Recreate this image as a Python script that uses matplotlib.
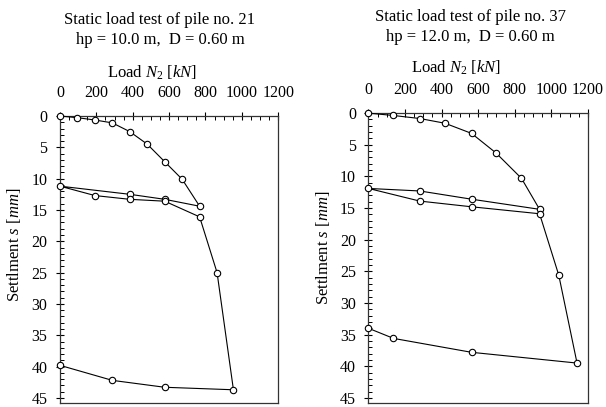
import matplotlib
matplotlib.use("Agg")
import matplotlib.pyplot as plt
from matplotlib.ticker import MultipleLocator

plt.rcParams['font.family'] = ['Liberation Serif']
plt.rcParams['mathtext.fontset'] = 'custom'
plt.rcParams['mathtext.rm'] = 'Liberation Serif'
plt.rcParams['mathtext.it'] = 'Liberation Serif:italic'

# Pile no. 21 (load path: load, unload, reload, load to failure, unload)
load_21 = [0, 96, 192, 288, 384, 480, 576, 672, 768, 576, 384, 0,
           192, 384, 576, 768, 864, 954, 576, 288, 0]
settl_21 = [0, 0.27, 0.64, 1.1, 2.5, 4.5, 7.3, 10.1, 14.4, 13.3, 12.5, 11.2,
            12.7, 13.3, 13.6, 16.1, 25.0, 43.7, 43.3, 42.2, 39.8]

# Pile no. 37
load_37 = [0, 137, 281, 419, 564, 698, 837, 936, 564, 281, 0,
           281, 564, 936, 1041, 1141, 564, 137, 0]
settl_37 = [0, 0.37, 0.85, 1.6, 3.2, 6.3, 10.3, 15.2, 13.6, 12.3, 11.9,
            13.9, 14.8, 15.9, 25.6, 39.5, 37.8, 35.6, 34.0]

titles = ["Static load test of pile no. 21\nhp = 10.0 m,  D = 0.60 m",
          "Static load test of pile no. 37\nhp = 12.0 m,  D = 0.60 m"]
x_ticks = [0, 200, 400, 600, 800, 1000, 1200]
y_ticks = [0, 5, 10, 15, 20, 25, 30, 35, 40, 45]

fig = plt.figure(figsize=(6.06, 4.07), dpi=100)
axes_pos = [[0.099, 0.010, 0.360, 0.705], [0.608, 0.010, 0.362, 0.712]]
title_pos = [(0.264, 0.927), (0.776, 0.934)]
xlabel_pos = [(0.424, 1.135), (0.40, 1.14)]
ylabel_y = [0.55, 0.535]

for pos, tpos, lpos, ly, title, xs, ys in zip(axes_pos, title_pos, xlabel_pos,
                                              ylabel_y, titles,
                                              [load_21, load_37],
                                              [settl_21, settl_37]):
    ax = fig.add_axes(pos)
    ax.plot(xs, ys, color='black', lw=0.8, marker='o', ms=4.6,
            mfc='white', mec='black', mew=0.8, clip_on=False, zorder=3)
    ax.set_xlim(0, 1200)
    ax.set_ylim(45.8, 0)
    ax.xaxis.tick_top()
    ax.xaxis.set_label_position('top')
    ax.set_xticks(x_ticks)
    ax.set_yticks(y_ticks)
    ax.xaxis.set_minor_locator(MultipleLocator(50))
    ax.yaxis.set_minor_locator(MultipleLocator(1))
    ax.tick_params(axis='both', which='major', direction='inout', length=6,
                   width=0.8, labelsize=11.5)
    ax.tick_params(axis='both', which='minor', direction='in', length=3,
                   width=0.7)
    ax.tick_params(axis='x', which='major', pad=8)
    ax.tick_params(axis='y', which='major', pad=6)
    ax.set_xlabel(r"Load $\mathit{N}_{2}$ $\mathit{[kN]}$", fontsize=12)
    ax.xaxis.set_label_coords(*lpos)
    ax.set_ylabel(r"Settlment $\mathit{s}$ $\mathit{[mm]}$", fontsize=12,
                  labelpad=6)
    ax.yaxis.label.set_y(ly)
    for sp in ax.spines.values():
        sp.set_linewidth(0.9)
        sp.set_color('#333333')
    fig.text(tpos[0], tpos[1], title, ha='center', va='center', fontsize=12,
             linespacing=1.35)

plt.savefig("out.png", dpi=100)
